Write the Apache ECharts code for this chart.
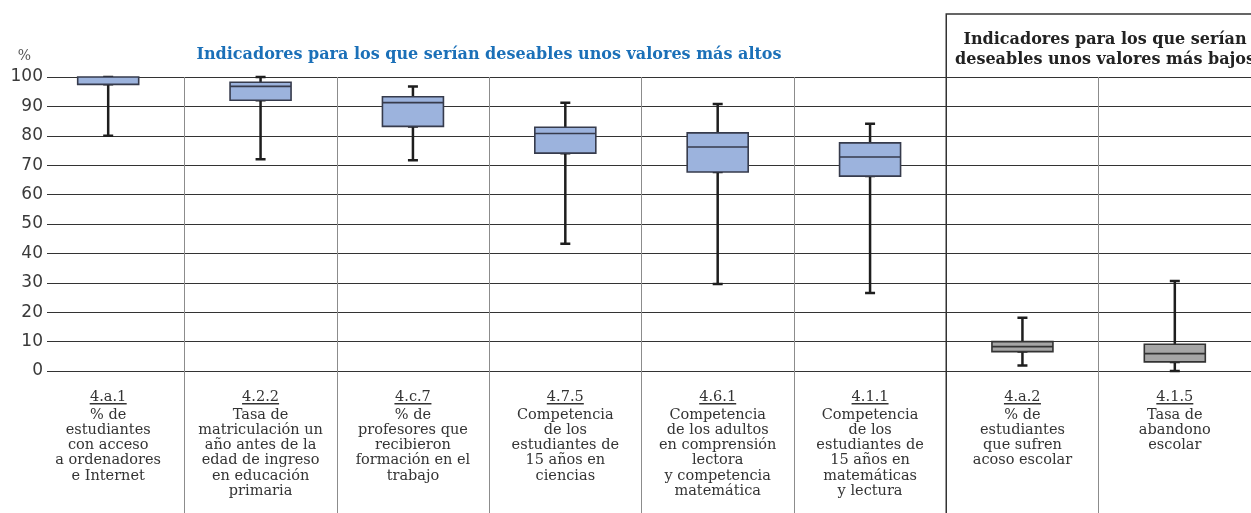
<!DOCTYPE html>
<html>
<head>
<meta charset="utf-8">
<script src="https://cdn.jsdelivr.net/npm/echarts@6/dist/echarts.min.js"></script>
<style>
html, body { margin: 0; padding: 0; background: #fff; }
#main { width: 1251px; height: 513px; }
</style>
</head>
<body>
<div id="main"></div>
<script>
// indicator codes and their descriptions (line breaks as in the original)
var codes = ['4.a.1', '4.2.2', '4.c.7', '4.7.5', '4.6.1', '4.1.1', '4.a.2', '4.1.5'];
var descs = [
    '% de\nestudiantes\ncon acceso\na ordenadores\ne Internet',
    'Tasa de\nmatriculación un\naño antes de la\nedad de ingreso\nen educación\nprimaria',
    '% de\nprofesores que\nrecibieron\nformación en el\ntrabajo',
    'Competencia\nde los\nestudiantes de\n15 años en\nciencias',
    'Competencia\nde los adultos\nen comprensión\nlectora\ny competencia\nmatemática',
    'Competencia\nde los\nestudiantes de\n15 años en\nmatemáticas\ny lectura',
    '% de\nestudiantes\nque sufren\nacoso escolar',
    'Tasa de\nabandono\nescolar'
];
// 'alto' = higher values desirable, 'bajo' = lower values desirable
var groups = ['alto', 'alto', 'alto', 'alto', 'alto', 'alto', 'bajo', 'bajo'];

// box plot values (%)
var lowWhisker  = [80,   72,   71.7, 43.3, 29.6, 26.5, 1.9,  0];
var q1          = [97.5, 92.1, 83.2, 74.1, 67.7, 66.3, 6.6,  3.1];
var median      = [100,  96.8, 91.3, 80.8, 76.2, 72.8, 8.3,  5.9];
var q3          = [100,  98.2, 93.3, 82.9, 81,   77.6, 10,   9.1];
var highWhisker = [100,  100,  96.8, 91.2, 90.8, 84.1, 18.1, 30.6];

var yMin = 0, yMax = 100, yStep = 10;

var chart = echarts.init(document.getElementById('main'));

// whiskers drawn as a thin-box boxplot, boxes laid over them
var whiskerData = codes.map(function (c, i) {
    return [lowWhisker[i], q1[i], q1[i], q1[i], highWhisker[i]];
});
var boxData = codes.map(function (c, i) {
    var alto = groups[i] === 'alto';
    return {
        value: [q1[i], q1[i], median[i], q3[i], q3[i]],
        itemStyle: {
            color: alto ? '#9cb3dd' : '#a6a6a6',
            borderColor: alto ? '#363b4c' : '#333'
        }
    };
});

var option = {
    animation: false,
    backgroundColor: '#fff',
    grid: [
        // horizontal grid lines and y labels
        { left: 47, right: 0, top: 77, height: 294 },
        // categories and boxes
        { left: 32, width: 1224, top: 77, height: 294 }
    ],
    xAxis: [
        { gridIndex: 0, type: 'value', show: false, min: 0, max: 1 },
        {
            gridIndex: 1,
            type: 'category',
            data: codes,
            axisLine: { show: false },
            axisTick: {
                show: true,
                length: 142,
                interval: function (index) { return index > 0; },
                lineStyle: { color: '#8c8c8c', width: 1 }
            },
            splitLine: {
                show: true,
                interval: function (index) { return index > 0; },
                lineStyle: { color: '#8c8c8c', width: 1 }
            },
            axisLabel: {
                interval: 0,
                margin: 23,
                align: 'center',
                formatter: function (value, index) {
                    return '{code|' + codes[index] + '}\n{ul|\u00a0}\n{desc|' + descs[index] + '}';
                },
                rich: {
                    code: { fontFamily: 'DejaVu Serif', fontSize: 14.5, lineHeight: 6, color: '#333', align: 'center' },
                    ul: { width: 37, height: 1.3, lineHeight: 7.5, fontSize: 1, backgroundColor: '#333', align: 'center' },
                    desc: { fontFamily: 'DejaVu Serif', fontSize: 14.5, lineHeight: 15.2, color: '#333', align: 'center' }
                }
            }
        },
        { gridIndex: 1, type: 'category', data: codes, show: false }
    ],
    yAxis: [
        {
            gridIndex: 0,
            type: 'value',
            min: yMin,
            max: yMax,
            interval: yStep,
            name: '%',
            nameLocation: 'end',
            nameGap: 14,
            nameTextStyle: { fontFamily: 'DejaVu Serif', fontSize: 14, color: '#555', align: 'right', padding: [0, 16, 0, 0] },
            axisLine: { show: false },
            axisTick: { show: false },
            axisLabel: { fontFamily: 'DejaVu Sans', fontSize: 17, color: '#3a3a3a', margin: 4 },
            splitLine: { show: true, lineStyle: { color: '#333', width: 1.2 } }
        },
        { gridIndex: 1, type: 'value', min: yMin, max: yMax, show: false }
    ],
    series: [
        {
            name: 'bigotes',
            type: 'boxplot',
            xAxisIndex: 2,
            yAxisIndex: 1,
            boxWidth: [10, 10],
            silent: true,
            itemStyle: { color: 'rgba(0,0,0,0)', borderColor: '#1e1e1e', borderWidth: 2.5 },
            emphasis: { disabled: true },
            data: whiskerData
        },
        {
            name: 'cajas',
            type: 'boxplot',
            xAxisIndex: 1,
            yAxisIndex: 1,
            boxWidth: [61, 61],
            silent: true,
            itemStyle: { borderWidth: 1.6 },
            emphasis: { disabled: true },
            data: boxData
        }
    ]
};
chart.setOption(option);

// boundary between the two indicator groups, taken from the category axis
var firstBajo = groups.indexOf('bajo');
var xb = (chart.convertToPixel({ xAxisIndex: 1 }, firstBajo - 1) +
          chart.convertToPixel({ xAxisIndex: 1 }, firstBajo)) / 2;

chart.setOption({
    graphic: [
        {
            type: 'polyline',
            shape: { points: [[xb, 513], [xb, 14], [1251, 14]] },
            style: { stroke: '#333', lineWidth: 1.5, fill: null },
            z: 10
        },
        {
            type: 'text',
            x: 489, y: 55,
            style: {
                text: 'Indicadores para los que serían deseables unos valores más altos',
                font: 'bold 16px "DejaVu Serif"',
                fill: '#1b70b8',
                align: 'center',
                verticalAlign: 'middle'
            }
        },
        {
            type: 'text',
            x: 1105, y: 50,
            style: {
                text: 'Indicadores para los que serían\ndeseables unos valores más bajos',
                font: 'bold 16px "DejaVu Serif"',
                fill: '#222',
                align: 'center',
                verticalAlign: 'middle',
                lineHeight: 20
            }
        }
    ]
});
</script>
</body>
</html>
